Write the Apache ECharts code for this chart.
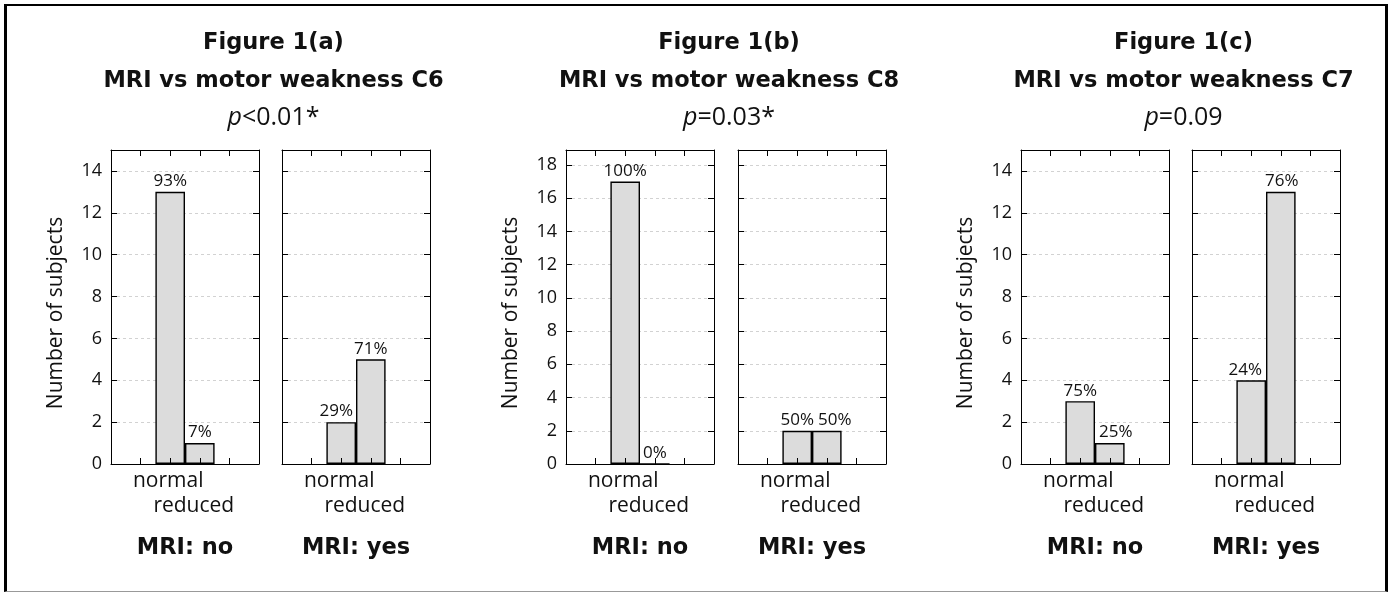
<!DOCTYPE html>
<html>
<head>
<meta charset="utf-8">
<script src="https://cdn.jsdelivr.net/npm/echarts@6/dist/echarts.min.js"></script>
<style>
  html, body { margin: 0; padding: 0; background: #fff; }
  #frame { position: absolute; left: 4px; top: 4px; width: 1384px; height: 588px; box-sizing: border-box;
           border-left: 3px solid #000; border-top: 2px solid #000; border-right: 3px solid #000; border-bottom: 1px solid #999; }
  #chart { position: absolute; left: 0; top: 0; width: 1394px; height: 592px; }
</style>
</head>
<body>
<div id="frame"></div>
<div id="chart"></div>
<script>
// ---- data ----
const categories = ['normal', 'reduced'];
const mriGroups = ['MRI: no', 'MRI: yes'];
const figureTitles = ['Figure 1(a)', 'Figure 1(b)', 'Figure 1(c)'];
const figureSubtitles = ['MRI vs motor weakness C6', 'MRI vs motor weakness C8', 'MRI vs motor weakness C7'];
const pValues = ['<0.01*', '=0.03*', '=0.09'];
const yTickInterval = 2;
const yMax = [15, 18.9, 15];

const figA_no = [13, 1];
const figA_yes = [2, 5];
const figB_no = [17, 0];
const figB_yes = [2, 2];
const figC_no = [3, 1];
const figC_yes = [4, 13];

const pctA_no = ['93%', '7%'];
const pctA_yes = ['29%', '71%'];
const pctB_no = ['100%', '0%'];
const pctB_yes = ['50%', '50%'];
const pctC_no = ['75%', '25%'];
const pctC_yes = ['24%', '76%'];

const panelValues = [[figA_no, figA_yes], [figB_no, figB_yes], [figC_no, figC_yes]];
const panelPcts = [[pctA_no, pctA_yes], [pctB_no, pctB_yes], [pctC_no, pctC_yes]];

// ---- layout / style ----
const panelLefts = [[111, 282], [566, 738], [1021, 1192]];
const panelW = 148, panelTop = 150, panelH = 314;
const slotOffset = 2; // categories sit on slots 2 and 3 of a 0..5 axis
// horizontal nudges of percentage labels (pixels), to avoid collisions as in the original
const labelNudge = [[[0, 0], [-5, 0]], [[0, 0], [0, 8]], [[0, 6], [-6, 1]]];

const FONT = '"Open Sans", "DejaVu Sans", sans-serif';
const BOLD = '"DejaVu Sans", "Open Sans", sans-serif';

const grids = [], xAxes = [], yAxes = [], series = [], titles = [];
let gi = 0;
for (let f = 0; f < 3; f++) {
  const cx = (panelLefts[f][0] + panelLefts[f][1] + panelW) / 2 + 3;
  titles.push({ text: figureTitles[f], left: cx, top: 32, textAlign: 'center', padding: 0,
    textStyle: { fontFamily: BOLD, fontWeight: 'bold', fontSize: 22.5, color: '#111' } });
  titles.push({ text: figureSubtitles[f], left: cx, top: 70, textAlign: 'center', padding: 0,
    textStyle: { fontFamily: BOLD, fontWeight: 'bold', fontSize: 22.5, color: '#111' } });
  titles.push({ text: '{i|p}{n|' + pValues[f] + '}', left: cx, top: 105, textAlign: 'center', padding: 0,
    textStyle: { fontFamily: FONT, fontWeight: 'normal', fontSize: 25, color: '#111',
      rich: {
        i: { fontFamily: FONT, fontStyle: 'italic', fontWeight: 'normal', fontSize: 25, color: '#111' },
        n: { fontFamily: FONT, fontWeight: 'normal', fontSize: 25, color: '#111' }
      } } });
  for (let p = 0; p < 2; p++) {
    grids.push({ left: panelLefts[f][p], top: panelTop, width: panelW, height: panelH, show: false });
    const tickStyle = { show: true, inside: true, length: 6, lineStyle: { color: '#000', width: 1 } };
    const lineStyle = { show: true, onZero: false, lineStyle: { color: '#000', width: 1 } };
    xAxes.push({
      type: 'value', gridIndex: gi, min: 0, max: 5, interval: 1, position: 'bottom', z: 3,
      axisLine: lineStyle, axisTick: tickStyle, splitLine: { show: false },
      name: mriGroups[p], nameLocation: 'middle', nameGap: 73,
      nameTextStyle: { fontFamily: BOLD, fontWeight: 'bold', fontSize: 22.5, color: '#111' },
      axisLabel: {
        show: true, margin: 5, lineHeight: 25, fontFamily: FONT, fontSize: 21, color: '#111',
        formatter: v => {
          const i = v - slotOffset;
          if (i === 0) return '{n|' + categories[0] + '}';
          if (i === 1) return '\n{r|' + categories[1] + '}';
          return '';
        },
        rich: {
          n: { fontFamily: FONT, fontSize: 21, color: '#111', padding: [0, 4, 0, 0], lineHeight: 25 },
          r: { fontFamily: FONT, fontSize: 21, color: '#111', padding: [0, 12, 0, 0], lineHeight: 25 }
        }
      }
    });
    xAxes.push({
      type: 'value', gridIndex: gi, min: 0, max: 5, interval: 1, position: 'top', z: 3,
      axisLine: lineStyle, axisTick: tickStyle, axisLabel: { show: false }, splitLine: { show: false }
    });
    yAxes.push({
      type: 'value', gridIndex: gi, min: 0, max: yMax[f], interval: yTickInterval, position: 'left',
      axisLine: lineStyle, axisTick: tickStyle,
      name: p === 0 ? 'Number of subjects' : '', nameLocation: 'middle', nameGap: 44,
      nameTextStyle: { fontFamily: FONT, fontSize: 21, color: '#111', padding: [0, 12, 0, 0] },
      axisLabel: { show: p === 0, showMaxLabel: false, margin: 9, fontFamily: FONT, fontSize: 18, color: '#111' },
      splitLine: { show: true, showMaxLine: false, lineStyle: { color: '#d2d2d2', type: [3, 3], width: 1 } }
    });
    yAxes.push({
      type: 'value', gridIndex: gi, min: 0, max: yMax[f], interval: yTickInterval, position: 'right',
      axisLine: lineStyle, axisTick: tickStyle, axisLabel: { show: false }, splitLine: { show: false }
    });
    const vals = panelValues[f][p], pcts = panelPcts[f][p], nudges = labelNudge[f][p];
    series.push({
      type: 'bar', xAxisIndex: gi * 2, yAxisIndex: gi * 2, barWidth: '100%',
      data: vals.map((v, i) => ({ value: [i + slotOffset, v], label: { offset: [nudges[i], 0] } })),
      itemStyle: { color: '#dcdcdc', borderColor: '#000', borderWidth: 1.4 },
      label: { show: true, position: 'top', distance: 2, fontFamily: FONT, fontSize: 17, color: '#111',
        formatter: prm => pcts[prm.dataIndex] },
      silent: true, animation: false
    });
    gi++;
  }
}

const chart = echarts.init(document.getElementById('chart'), null, { renderer: 'canvas' });
chart.setOption({
  backgroundColor: 'transparent',
  animation: false,
  title: titles,
  grid: grids,
  xAxis: xAxes,
  yAxis: yAxes,
  series: series
});
</script>
</body>
</html>
